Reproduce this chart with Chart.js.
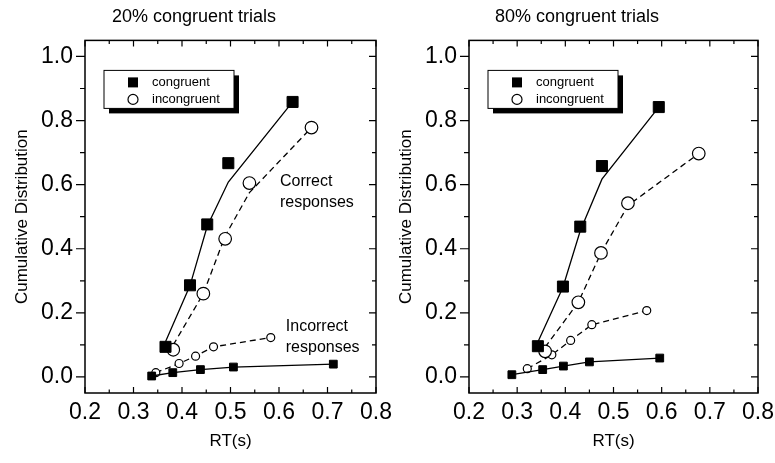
<!DOCTYPE html>
<html>
<head>
<meta charset="utf-8">
<title>Cumulative RT distributions</title>
<script src="https://cdn.jsdelivr.net/npm/chart.js"></script>
<style>
  body { margin: 0; background: #fff; }
  #wrap { position: relative; width: 775px; height: 463px; }
  .panel { position: absolute; top: 0; height: 463px; }
  #p20 { left: 0; width: 400px; }
  #p80 { left: 387px; width: 388px; }
</style>
</head>
<body>
<div id="wrap">
  <div class="panel" id="p20"><canvas id="c20"></canvas></div>
  <div class="panel" id="p80"><canvas id="c80"></canvas></div>
</div>
<script>
const X_TICKS = [0.2, 0.3, 0.4, 0.5, 0.6, 0.7, 0.8];
const Y_TICKS = [0, 0.2, 0.4, 0.6, 0.8, 1.0];
const LEGEND_LABELS = ['congruent', 'incongruent'];

// 20% congruent trials
const rt20CorrCon = [0.366, 0.4165, 0.452, 0.4955, 0.628];
const cd20CorrCon = [0.094, 0.286, 0.476, 0.667, 0.858];
const fit20CorrCon = [0.11, 0.285, 0.47, 0.608, 0.858];
const rt20CorrInc = [0.382, 0.444, 0.489, 0.539, 0.667];
const cd20CorrInc = [0.085, 0.26, 0.431, 0.605, 0.778];
const fit20CorrInc = [0.10, 0.26, 0.44, 0.575, 0.778];
const rt20ErrInc = [0.346, 0.394, 0.428, 0.465, 0.583];
const cd20ErrInc = [0.0135, 0.042, 0.065, 0.094, 0.123];
const rt20ErrCon = [0.3375, 0.381, 0.438, 0.506, 0.712];
const cd20ErrCon = [0.003, 0.0135, 0.023, 0.031, 0.040];

// 80% congruent trials
const rt80CorrCon = [0.343, 0.395, 0.431, 0.476, 0.594];
const cd80CorrCon = [0.096, 0.282, 0.469, 0.658, 0.842];
const fit80CorrCon = [0.109, 0.28, 0.456, 0.617, 0.842];
const rt80CorrInc = [0.358, 0.427, 0.474, 0.530, 0.677];
const cd80CorrInc = [0.08, 0.233, 0.387, 0.542, 0.697];
const fit80CorrInc = [0.093, 0.233, 0.387, 0.535, 0.697];
const rt80ErrInc = [0.321, 0.372, 0.411, 0.455, 0.569];
const cd80ErrInc = [0.026, 0.069, 0.114, 0.163, 0.207];
const rt80ErrCon = [0.289, 0.353, 0.396, 0.45, 0.596];
const cd80ErrCon = [0.007, 0.023, 0.034, 0.047, 0.059];

Chart.defaults.font.family = '"Liberation Sans", Arial, Helvetica, sans-serif';
Chart.defaults.color = '#000';

const zip = (xs, ys) => xs.map((x, i) => ({ x: x, y: ys[i] }));

function withMinors(majors) {
  const out = [];
  majors.forEach((v, i) => {
    out.push({ v: v, major: true });
    if (i < majors.length - 1) out.push({ v: (v + majors[i + 1]) / 2, major: false });
  });
  return out;
}

function fitLine(xs, ys, dashed) {
  return { data: zip(xs, ys), showLine: true, pointRadius: 0, borderColor: '#000', borderWidth: 1.3,
    borderDash: dashed ? [6, 4] : [], tension: 0, fill: false, order: 2 };
}
function squares(xs, ys, r, line) {
  return { data: zip(xs, ys), showLine: line, pointStyle: 'rect', pointRadius: r, pointBackgroundColor: '#000',
    pointBorderColor: '#000', pointBorderWidth: 1, borderColor: '#000', borderWidth: 1.3, order: 0 };
}
function circles(xs, ys, r, line) {
  return { data: zip(xs, ys), showLine: line, pointStyle: 'circle', pointRadius: r, pointBackgroundColor: '#fff',
    pointBorderColor: '#000', pointBorderWidth: 1.2, borderColor: '#000', borderWidth: 1.3,
    borderDash: [6, 4], order: 0 };
}

// box with ticks: left ticks point out, the other three point in
const framePlugin = {
  id: 'frame',
  afterDatasetsDraw(chart) {
    const { ctx, chartArea: a } = chart;
    const x = chart.scales.x, y = chart.scales.y;
    ctx.save();
    ctx.strokeStyle = '#000';
    ctx.lineWidth = 1.5;
    ctx.strokeRect(a.left, a.top, a.right - a.left, a.bottom - a.top);
    ctx.lineWidth = 1.2;
    ctx.beginPath();
    withMinors(X_TICKS).forEach(t => {
      const px = x.getPixelForValue(t.v);
      const l = t.major ? 6 : 3.5;
      ctx.moveTo(px, a.bottom); ctx.lineTo(px, a.bottom - l);
      ctx.moveTo(px, a.top); ctx.lineTo(px, a.top + l);
    });
    withMinors(Y_TICKS).forEach(t => {
      const py = y.getPixelForValue(t.v);
      ctx.moveTo(a.left, py); ctx.lineTo(a.left - (t.major ? 9 : 5), py);
      ctx.moveTo(a.right, py); ctx.lineTo(a.right - (t.major ? 7 : 4), py);
    });
    ctx.stroke();
    ctx.restore();
  }
};

const boxLegendPlugin = {
  id: 'boxLegend',
  afterDraw(chart) {
    const { ctx, chartArea: a } = chart;
    const bx = a.left + 19, by = a.top + 30, w = 130, h = 38;
    ctx.save();
    ctx.fillStyle = '#000';
    ctx.fillRect(bx + 5, by + 5, w, h);
    ctx.fillStyle = '#fff';
    ctx.fillRect(bx, by, w, h);
    ctx.strokeStyle = '#000';
    ctx.lineWidth = 1;
    ctx.strokeRect(bx, by, w, h);
    ctx.font = '13px "Liberation Sans", Arial, sans-serif';
    ctx.textBaseline = 'middle';
    LEGEND_LABELS.forEach((lab, i) => {
      const cy = by + 12 + i * 17;
      if (i === 0) {
        ctx.fillStyle = '#000';
        ctx.fillRect(bx + 24, cy - 5, 10, 10);
      } else {
        ctx.beginPath();
        ctx.arc(bx + 29, cy, 5, 0, Math.PI * 2);
        ctx.lineWidth = 1.2;
        ctx.stroke();
      }
      ctx.fillStyle = '#000';
      ctx.fillText(lab, bx + 48, cy);
    });
    ctx.restore();
  }
};

function notesPlugin(notes) {
  return {
    id: 'notes',
    afterDraw(chart) {
      const { ctx } = chart;
      const x = chart.scales.x, y = chart.scales.y;
      ctx.save();
      ctx.font = '16px "Liberation Sans", Arial, sans-serif';
      ctx.fillStyle = '#000';
      ctx.textBaseline = 'middle';
      ctx.textAlign = 'left';
      notes.forEach(n => ctx.fillText(n.text, x.getPixelForValue(n.x), y.getPixelForValue(n.y)));
      ctx.restore();
    }
  };
}

function makePanel(id, title, datasets, padL, padR, notes) {
  new Chart(document.getElementById(id), {
    type: 'scatter',
    data: { datasets: datasets },
    options: {
      responsive: true,
      maintainAspectRatio: false,
      animation: false,
      layout: { padding: { left: padL, right: padR, top: 0, bottom: 0 } },
      plugins: {
        legend: { display: false },
        tooltip: { enabled: false },
        title: { display: true, text: title, color: '#000', font: { size: 18, weight: 'normal' },
          padding: { top: 6, bottom: 12.8 } }
      },
      scales: {
        x: {
          type: 'linear', min: 0.2, max: 0.8,
          afterBuildTicks: s => { s.ticks = X_TICKS.map(v => ({ value: v })); },
          afterFit: s => { s.height = 70; s.paddingLeft = 0; s.paddingRight = 0; },
          grid: { display: false, drawTicks: false },
          border: { display: false },
          ticks: { font: { size: 23 }, color: '#000', padding: 6, maxRotation: 0, autoSkip: false,
            callback: v => v.toFixed(1) },
          title: { display: true, text: 'RT(s)', color: '#000', font: { size: 17 }, padding: { top: 0, bottom: 11 } }
        },
        y: {
          type: 'linear', min: -0.05, max: 1.05,
          afterBuildTicks: s => { s.ticks = Y_TICKS.map(v => ({ value: v })); },
          afterFit: s => { s.width = 73; s.paddingTop = 0; s.paddingBottom = 0; },
          grid: { display: false, drawTicks: false },
          border: { display: false },
          ticks: { font: { size: 23 }, color: '#000', padding: 12, autoSkip: false,
            callback: v => v.toFixed(1) },
          title: { display: true, text: 'Cumulative Distribution', color: '#000', font: { size: 17 },
            padding: { top: 0, bottom: 0 } }
        }
      }
    },
    plugins: [framePlugin, boxLegendPlugin, notesPlugin(notes)]
  });
}

makePanel('c20', '20% congruent trials', [
  fitLine(rt20CorrCon, fit20CorrCon, false),
  fitLine(rt20CorrInc, fit20CorrInc, true),
  squares(rt20CorrCon, cd20CorrCon, 7.8, false),
  circles(rt20CorrInc, cd20CorrInc, 6.3, false),
  squares(rt20ErrCon, cd20ErrCon, 5.5, true),
  circles(rt20ErrInc, cd20ErrInc, 4, true)
], 12, 24, [
  { text: 'Correct', x: 0.602, y: 0.61 },
  { text: 'responses', x: 0.602, y: 0.545 },
  { text: 'Incorrect', x: 0.614, y: 0.156 },
  { text: 'responses', x: 0.614, y: 0.093 }
]);

makePanel('c80', '80% congruent trials', [
  fitLine(rt80CorrCon, fit80CorrCon, false),
  fitLine(rt80CorrInc, fit80CorrInc, true),
  squares(rt80CorrCon, cd80CorrCon, 7.8, false),
  circles(rt80CorrInc, cd80CorrInc, 6.3, false),
  squares(rt80ErrCon, cd80ErrCon, 5.5, true),
  circles(rt80ErrInc, cd80ErrInc, 4, true)
], 9, 17, []);
</script>
</body>
</html>
